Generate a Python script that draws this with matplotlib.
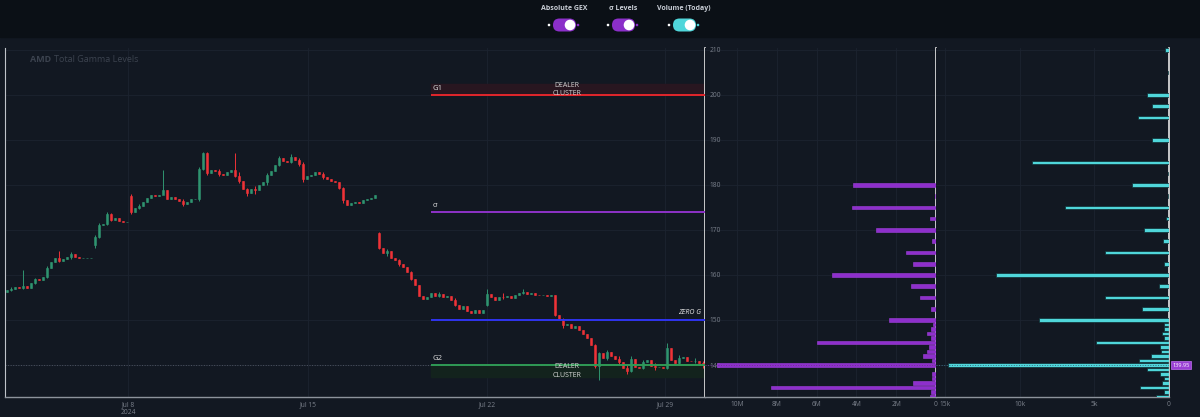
import numpy as np
import matplotlib
matplotlib.use('Agg')
import matplotlib.pyplot as plt
import matplotlib.transforms as mtrans
from matplotlib.patches import FancyBboxPatch, Circle, Rectangle

plt.rcParams['font.family'] = ['Open Sans', 'DejaVu Sans']

# ---- data ----
closes = [
    156.6, 156.9, 157.3, 157.1, 157.6, 157.0, 158.2, 159.0, 158.9, 159.6,
    161.6, 162.8, 163.8, 163.2, 163.6, 163.9, 164.6, 164.0, 163.7, 163.7,
    163.7, 163.7, 168.5, 171.0, 171.3, 173.5, 172.3, 172.6, 172.0, 171.8,
    171.8, 174.0, 174.8, 175.3, 176.2, 177.2, 177.8, 177.5, 177.7, 178.9,
    176.8, 177.3, 176.8, 176.5, 175.8, 176.3, 176.8, 176.9, 183.6, 187.0,
    182.6, 183.2, 183.0, 182.4, 182.2, 182.9, 183.4, 182.0, 180.8, 179.2,
    178.2, 179.2, 178.9, 180.0, 180.6, 182.3, 183.0, 184.4, 185.9, 185.3,
    185.0, 186.3, 185.6, 184.6, 181.4, 181.9, 182.3, 182.9, 182.5, 181.7,
    181.4, 180.9, 180.6, 179.4, 176.6, 175.6, 175.9, 176.2, 176.0, 176.6,
    176.9, 177.1, 177.7, 166.0, 164.8, 165.3, 163.8, 163.4, 162.5, 161.8,
    160.6, 159.2, 157.8, 155.4, 154.6, 155.2, 156.0, 155.4, 155.8, 155.0,
    155.3, 154.5, 153.4, 152.5, 153.0, 152.0, 151.6, 152.2, 151.5, 152.2,
    155.8, 155.0, 154.4, 155.2, 155.0, 155.4, 154.8, 155.5, 155.9, 156.3,
    155.7, 156.1, 155.6, 155.5, 155.5, 155.4, 155.5, 151.0, 150.2, 148.8,
    149.0, 148.2, 148.6, 147.8, 146.9, 145.9, 144.5, 139.8, 142.6, 141.5,
    142.8, 141.9, 141.3, 140.6, 139.4, 138.7, 141.4, 139.6, 139.3, 140.6,
    141.1, 139.8, 139.5, 139.6, 139.3, 143.8, 141.2, 140.4, 141.6, 141.8,
    141.0, 140.8, 141.0, 140.4, 139.95]
# opens follow the previous close except at session gaps
gap_opens = {0: 156.3, 22: 166.6, 31: 177.6, 93: 169.4, 120: 153.3}
# visible wicks: index -> (high, low)
wicks = {1: (157.3, 156.4), 4: (161.0, 156.9), 7: (159.4, 158.0), 10: (161.9, 159.4),
         13: (165.3, 162.9), 16: (165.0, 163.6), 22: (168.8, 165.9), 23: (171.6, 168.2),
         25: (174.0, 171.0), 26: (173.8, 171.9), 31: (177.9, 173.6), 33: (175.8, 174.6),
         39: (183.2, 178.4), 44: (176.9, 175.4), 48: (183.9, 176.4), 49: (187.3, 183.4),
         50: (187.2, 182.3), 53: (183.6, 182.0), 57: (187.1, 181.8), 58: (182.9, 180.4),
         60: (179.4, 177.6), 62: (179.8, 177.9), 65: (182.6, 179.9), 68: (186.4, 184.2),
         71: (186.8, 184.8), 73: (186.0, 184.2), 74: (185.0, 180.6), 79: (182.9, 181.3),
         83: (180.7, 179.0), 84: (179.6, 175.9), 93: (169.6, 165.8), 95: (165.8, 164.3),
         98: (163.6, 162.0), 101: (160.9, 158.8), 108: (156.3, 155.0), 112: (154.8, 153.0),
         120: (156.9, 153.1), 124: (155.9, 154.6), 129: (156.8, 155.7), 137: (155.6, 150.8),
         139: (150.4, 148.3), 147: (144.7, 139.4), 148: (143.0, 136.7), 150: (143.4, 141.2),
         153: (141.9, 140.1), 155: (139.9, 137.9), 156: (141.9, 138.4), 159: (141.1, 139.1),
         162: (140.4, 139.0), 165: (144.8, 139.1), 168: (142.2, 140.2), 172: (141.5, 140.5),
         174: (140.9, 139.4)}

date_labels = ['Jul 8\n2024', 'Jul 15', 'Jul 22', 'Jul 29']
date_ticks = [30.25, 75.25, 120.0, 164.5]

level_names = ['G1', 'σ', 'ZERO G', 'G2']
level_prices = [200.0, 174.0, 150.0, 140.0]
level_colors = ['#e3262c', '#8e32c8', '#2f34f0', '#2f9a55']
level_start = 106
g1_band = (200.0, 202.5)
g2_band = (137.3, 140.0)
last_price = 139.95

gex_strikes = [180, 177.5, 175, 172.5, 170, 167.5, 165, 162.5, 160, 157.5, 155, 152.5, 150,
               149, 148, 147, 146, 145, 144, 143, 142, 141, 140, 138, 137, 136, 135, 134, 133]
gex_musd = [4.15, 0.05, 4.2, 0.3, 3.0, 0.2, 1.5, 1.17, 5.2, 1.27, 0.8, 0.27, 2.38,
            0.13, 0.27, 0.43, 0.27, 6.0, 0.33, 0.47, 0.63, 0.18, 11.0, 0.18, 0.18, 1.17, 8.3, 0.27, 0.3]

vol_strikes = [210, 205, 202.5, 200, 197.5, 195, 190, 187.5, 185, 182.5, 180, 177.5, 175, 172.5,
               170, 167.5, 165, 162.5, 160, 157.5, 155, 152.5, 150, 149, 148, 147, 146, 145,
               144, 143, 142, 141, 140, 139, 138, 137, 136, 135, 134, 133]
vol_k = [0.27, 0.1, 0.02, 1.5, 1.16, 2.07, 1.16, 0.02, 9.2, 0.05, 2.45, 0.05, 6.98, 0.22,
         1.7, 0.38, 4.3, 0.33, 11.6, 0.69, 4.3, 1.79, 8.7, 0.31, 0.31, 0.45, 0.36, 4.9,
         0.58, 0.51, 1.18, 2.0, 14.8, 1.47, 0.63, 0.36, 0.45, 1.94, 0.36, 0.87]

toggles = ['Absolute GEX', 'σ Levels', 'Volume (Today)']
toggle_colors = ['#8b2fc9', '#8b2fc9', '#4fd6da']

# ---- style ----
BG = '#121822'
HEAD = '#0b1016'
GRID = '#1c2330'
TXT = '#7b818c'
UP = '#2f9470'
DN = '#ef3237'
YLIM = (132.9, 210.4)

fig = plt.figure(figsize=(12, 4.17), dpi=100, facecolor=BG)
fig.add_artist(Rectangle((0, 380 / 417), 1, 37 / 417, transform=fig.transFigure,
                         color=HEAD, zorder=0))

ax = fig.add_axes([5 / 1200, 20 / 417, 700 / 1200, 349 / 417])
ax_g = fig.add_axes([705 / 1200, 20 / 417, 231 / 1200, 349 / 417])
ax_v = fig.add_axes([936 / 1200, 20 / 417, 233 / 1200, 349 / 417])

for a in (ax, ax_g, ax_v):
    a.set_facecolor(BG)
    a.set_ylim(*YLIM)
    a.set_yticks(np.arange(140, 211, 10))
    a.grid(True, color=GRID, lw=0.6)
    a.set_axisbelow(True)
    a.tick_params(length=0, colors=TXT, labelsize=4.8, pad=3)
    for s in ('top', 'left'):
        a.spines[s].set_visible(False)
    a.spines['right'].set_color('#e6e6e6')
    a.spines['right'].set_linewidth(1.2)
    a.spines['bottom'].set_color('#8d939c')
    a.spines['bottom'].set_linewidth(1.0)
ax.spines['left'].set_visible(True)
ax.spines['left'].set_color('#bfc3c9')
ax.yaxis.set_ticklabels([])
ax_v.yaxis.set_ticklabels([])

# ---- candles ----
n = len(closes)
idx = np.arange(n)
opens = [gap_opens.get(i, closes[i - 1] if i else closes[0]) for i in range(n)]
cols = [UP if c >= o else DN for o, c in zip(opens, closes)]
for i in range(n):
    hi, lo = wicks.get(i, (max(opens[i], closes[i]), min(opens[i], closes[i])))
    ax.vlines(i, lo, hi, color=cols[i], lw=0.7, zorder=3)
ax.bar(idx, np.array(closes) - np.array(opens), bottom=opens, width=0.72,
       color=cols, edgecolor=cols, linewidth=0.4, zorder=3)
ax.set_xlim(-0.5, n - 0.5)
ax.set_xticks(date_ticks)
ax.set_xticklabels(date_labels)

# levels
ax.axhspan(*g1_band, xmin=(level_start + 0.5) / n, xmax=1, color='#281620', zorder=1)
ax.axhspan(*g2_band, xmin=(level_start + 0.5) / n, xmax=1, color='#13231d', zorder=1)
for name, p, c in zip(level_names, level_prices, level_colors):
    ax.hlines(p, level_start, n - 0.5, color=c, lw=1.4, zorder=4)
    if name == 'ZERO G':
        ax.text(n - 1.5, p + 0.8, name, color='#e8e8e8', fontsize=5, style='italic',
                ha='right', va='bottom', zorder=5)
    else:
        ax.text(level_start + 0.3, p + 0.6, name, color='#e0e0e0', fontsize=5.5,
                ha='left', va='bottom', zorder=5)
mid = (level_start + n) / 2 - 0.5
ax.text(mid, 201.2, 'DEALER\nCLUSTER', color='#d6d6d6', fontsize=5, ha='center',
        va='center', linespacing=1.3, zorder=5)
ax.text(mid, 138.7, 'DEALER\nCLUSTER', color='#d6d6d6', fontsize=5, ha='center',
        va='center', linespacing=1.3, zorder=5)
ax.axhline(last_price, color='#4d5360', lw=0.7, ls=':', zorder=2)

ax.text(0.036, 0.968, 'AMD', transform=ax.transAxes, color='#3c434f', fontsize=6.5,
        fontweight='bold', va='center')
ax.text(0.070, 0.968, 'Total Gamma Levels', transform=ax.transAxes, color='#3c434f',
        fontsize=6.5, va='center')

# ---- GEX panel ----
ax_g.barh(gex_strikes, gex_musd, height=0.8, color='#8e2fcc', edgecolor='#a040dd',
          linewidth=0.4, zorder=3)
ax_g.set_xlim(11.6, 0)
ax_g.set_xticks([10, 8, 6, 4, 2, 0])
ax_g.set_xticklabels(['10M', '8M', '6M', '4M', '2M', '0'])
ax_g.tick_params(axis='y', pad=-3)
for lbl in ax_g.get_yticklabels():
    lbl.set_horizontalalignment('left')
ax_g.axhline(last_price, color='#6a3a8a', lw=0.7, ls=':', zorder=4)

# ---- Volume panel ----
ax_v.barh(vol_strikes, vol_k, height=0.8, color='#4fd6da', edgecolor='#0e2a30',
          linewidth=0.5, zorder=3)
ax_v.set_xlim(15.6, 0)
ax_v.set_xticks([15, 10, 5, 0])
ax_v.set_xticklabels(['15k', '10k', '5k', '0'])
ax_v.axhline(last_price, color='#3a6a80', lw=0.7, ls=':', zorder=4)
tr = mtrans.blended_transform_factory(ax_v.transAxes, ax_v.transData)
ax_v.text(1.015, last_price, f'{last_price:.2f}', transform=tr, fontsize=4, color='white',
          ha='left', va='center', clip_on=False,
          bbox=dict(boxstyle='square,pad=0.25', fc='#9a3fd4', ec='#c070f0', lw=0.5))

# ---- header toggles ----
ax_h = fig.add_axes([0, 380 / 417, 1, 37 / 417])
ax_h.set_xlim(0, 1200)
ax_h.set_ylim(37, 0)
ax_h.axis('off')
for name, c, cx in zip(toggles, toggle_colors, [564, 623, 684]):
    ax_h.text(cx, 9, name, ha='center', va='center', fontsize=5, fontweight='bold',
              color='#c9ced6')
    ax_h.add_patch(FancyBboxPatch((cx - 11, 18.5), 23, 13,
                                  boxstyle='round,pad=0,rounding_size=6.5', fc=c, ec='none'))
    ax_h.add_patch(Circle((cx + 6, 25), 5.3, fc='white', ec='none'))
    ax_h.add_patch(Circle((cx - 15, 25), 1.3, fc='white', ec='none'))
    ax_h.add_patch(Circle((cx + 14, 25), 1.3, fc=c, ec='none'))

fig.savefig('out.png', dpi=100, facecolor=BG)
